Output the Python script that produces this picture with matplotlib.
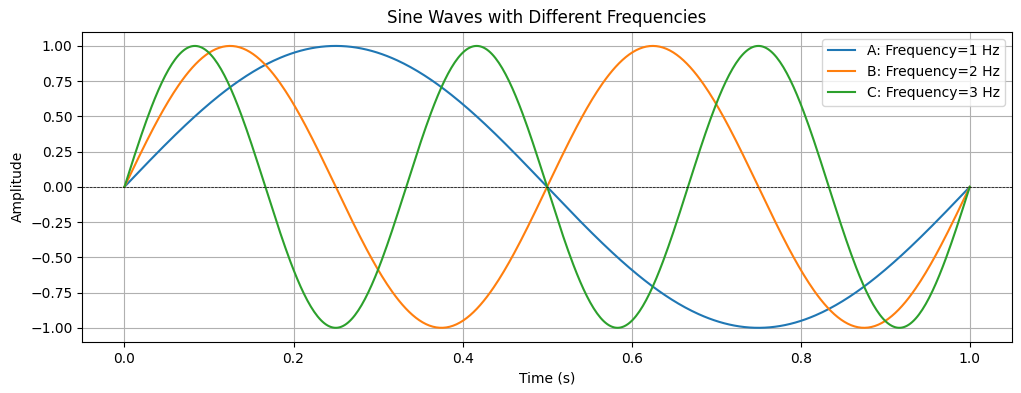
import numpy as np
import matplotlib
matplotlib.use("Agg")
import matplotlib.pyplot as plt

# ── Data ──────────────────────────────────────────────────────────────────────
labels = ["A", "B", "C"]
frequencies = [1, 2, 3]  # Hz
t = np.linspace(0, 1, 500)

# ── Figure ────────────────────────────────────────────────────────────────────
fig, ax = plt.subplots(figsize=(10.21, 3.93), dpi=100)
fig.subplots_adjust(left=0.0805, right=0.9912, top=0.919, bottom=0.130)

for lab, f in zip(labels, frequencies):
    ax.plot(t, np.sin(2 * np.pi * f * t), label=f"{lab}: Frequency={f} Hz")

ax.axhline(0, color="black", linewidth=0.5, linestyle="--")
ax.set_title("Sine Waves with Different Frequencies")
ax.set_xlabel("Time (s)")
ax.set_ylabel("Amplitude")
ax.grid(True)
ax.legend(loc="upper right")

fig.savefig("out.png", dpi=100)
